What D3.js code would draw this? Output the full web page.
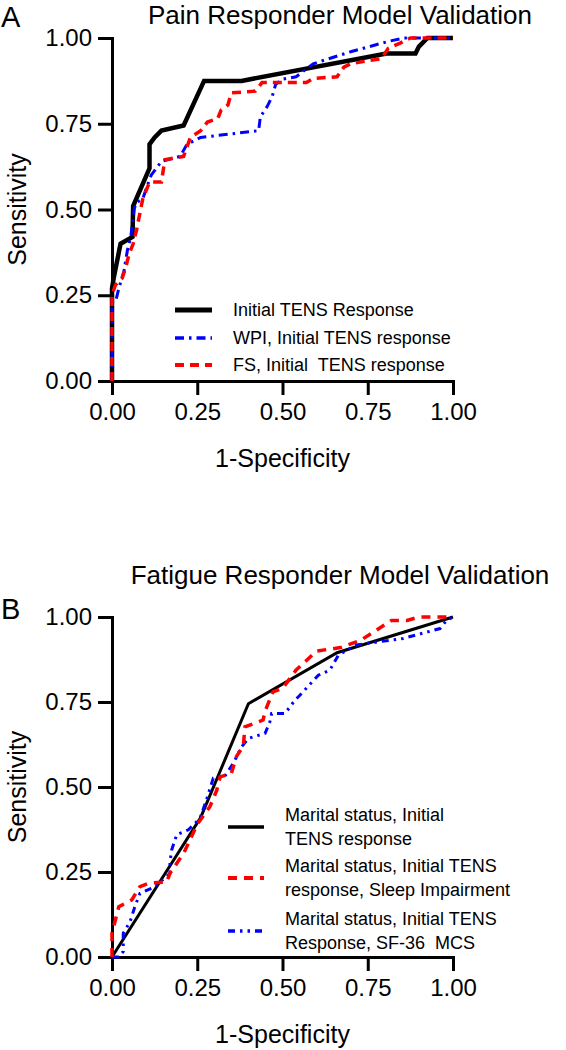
<!DOCTYPE html>
<html><head><meta charset="utf-8">
<script src="https://cdn.jsdelivr.net/npm/d3@7"></script>
<style>
body{margin:0;background:#fff}
svg{display:block}
text{font-family:"Liberation Sans",Arial,sans-serif;fill:#000;white-space:pre}
</style>
</head><body>
<svg id="c" width="566" height="1050"></svg>
<script>
// ---------- data ----------
const tickValues = [0, 0.25, 0.5, 0.75, 1];
const tickLabels = ["0.00", "0.25", "0.50", "0.75", "1.00"];
const xAxisTitle = "1-Specificity";
const yAxisTitle = "Sensitivity";
const panelLetters = ["A", "B"];
const panelTitles = ["Pain Responder Model Validation", "Fatigue Responder Model Validation"];

// Panel A (pain) ROC curves: [1-specificity, sensitivity]
const painInitial = [[0,0],[0,0.27],[0.005,0.30],[0.025,0.40],[0.06,0.42],[0.062,0.51],[0.11,0.62],[0.11,0.69],[0.125,0.71],[0.145,0.73],[0.21,0.745],[0.27,0.875],[0.38,0.875],[0.805,0.955],[0.89,0.955],[0.90,0.975],[0.925,1.0],[1,1]];
const painWPI = [[0,0],[0,0.23],[0.01,0.23],[0.02,0.27],[0.035,0.32],[0.045,0.38],[0.055,0.42],[0.065,0.50],[0.07,0.52],[0.09,0.53],[0.10,0.56],[0.115,0.60],[0.13,0.62],[0.145,0.64],[0.20,0.655],[0.22,0.69],[0.26,0.71],[0.43,0.73],[0.435,0.77],[0.455,0.80],[0.47,0.83],[0.48,0.865],[0.50,0.88],[0.54,0.887],[0.59,0.925],[0.70,0.96],[0.81,0.99],[0.855,1],[1,1]];
const painFS = [[0,0],[0,0.25],[0.01,0.28],[0.03,0.30],[0.04,0.33],[0.05,0.37],[0.062,0.40],[0.072,0.44],[0.09,0.53],[0.11,0.58],[0.145,0.58],[0.155,0.645],[0.21,0.655],[0.23,0.71],[0.26,0.73],[0.28,0.755],[0.31,0.765],[0.32,0.79],[0.34,0.805],[0.35,0.84],[0.42,0.845],[0.44,0.87],[0.57,0.87],[0.59,0.882],[0.66,0.887],[0.68,0.915],[0.70,0.925],[0.79,0.94],[0.81,0.97],[0.845,0.985],[0.875,1],[1,1]];
const painLegend = ["Initial TENS Response", "WPI, Initial TENS response", "FS, Initial  TENS response"];

// Panel B (fatigue) ROC curves
const fatigueMarital = [[0,0],[0.26,0.41],[0.40,0.745],[0.66,0.895],[1,1]];
const fatigueSleep = [[0,0],[0,0.07],[0.02,0.148],[0.058,0.168],[0.082,0.207],[0.11,0.218],[0.16,0.22],[0.17,0.246],[0.21,0.305],[0.25,0.39],[0.287,0.442],[0.307,0.49],[0.317,0.53],[0.35,0.54],[0.365,0.59],[0.385,0.62],[0.39,0.677],[0.443,0.697],[0.45,0.726],[0.472,0.78],[0.50,0.79],[0.54,0.844],[0.60,0.90],[0.67,0.91],[0.73,0.932],[0.82,0.99],[0.865,0.99],[0.90,1],[1,1]];
const fatigueMCS = [[0,0],[0.02,0],[0.033,0.016],[0.033,0.07],[0.053,0.104],[0.067,0.148],[0.082,0.187],[0.126,0.207],[0.17,0.246],[0.17,0.28],[0.175,0.315],[0.19,0.36],[0.224,0.374],[0.258,0.408],[0.277,0.462],[0.297,0.526],[0.327,0.526],[0.356,0.57],[0.38,0.618],[0.40,0.643],[0.449,0.658],[0.463,0.692],[0.468,0.716],[0.507,0.716],[0.537,0.756],[0.551,0.77],[0.605,0.829],[0.639,0.844],[0.664,0.888],[0.717,0.918],[0.854,0.937],[0.962,0.966],[0.981,0.99],[1,1]];
const fatigueLegend = [["Marital status, Initial","TENS response"],["Marital status, Initial TENS","response, Sleep Impairment"],["Marital status, Initial TENS","Response, SF-36  MCS"]];

// ---------- layout / styles ----------
const svg = d3.select("#c");
const x = d3.scaleLinear().domain([0,1]).range([112, 453]);
const FONT_TICK = 24, FONT_AXIS = 25, FONT_TITLE = 26, FONT_LEG = 18;

const panels = [
  {letter: panelLetters[0], title: panelTitles[0], top: 38, bottom: 381, titleY: 24, letterY: 27,
   series: [
     {data: painInitial, color: "#000", width: 4.5, dash: null},
     {data: painWPI, color: "#0000ff", width: 3, dash: "9,5,2.5,5"},
     {data: painFS, color: "#ff0000", width: 3.5, dash: "9,6"}
   ],
   legend: {x1: 175, x2: 212, tx: 233, rows: [310, 338, 365], labels: painLegend.map(d => [d])}
  },
  {letter: panelLetters[1], title: panelTitles[1], top: 617, bottom: 957, titleY: 584, letterY: 619,
   series: [
     {data: fatigueMarital, color: "#000", width: 3, dash: null},
     {data: fatigueSleep, color: "#ff0000", width: 3.5, dash: "9,7"},
     {data: fatigueMCS, color: "#0000ff", width: 3, dash: "7,5,2.5,5,2.5,5"}
   ],
   legend: {x1: 228, x2: 264, tx: 285, rows: [827, 878, 931], labels: fatigueLegend}
  }
];

panels.forEach((p, pi) => {
  const y = d3.scaleLinear().domain([0,1]).range([p.bottom, p.top]);
  const g = svg.append("g");

  // axes
  const yAxis = d3.axisLeft(y).tickValues(tickValues).tickFormat((d,i) => tickLabels[i]).tickSize(14).tickSizeOuter(0).tickPadding(6);
  const xAxis = d3.axisBottom(x).tickValues(tickValues).tickFormat((d,i) => tickLabels[i]).tickSize(14).tickSizeOuter(0).tickPadding(8);
  const ya = g.append("g").attr("transform", `translate(${x(0)},0)`).call(yAxis);
  const xa = g.append("g").attr("transform", `translate(0,${y(0)})`).call(xAxis);
  [ya, xa].forEach(a => {
    a.select(".domain").attr("stroke", "#000").attr("stroke-width", 3).attr("stroke-linecap", "square");
    a.selectAll(".tick line").attr("stroke", "#000").attr("stroke-width", 3);
    a.selectAll(".tick text").attr("font-size", FONT_TICK).attr("fill", "#000")
      .style("font-family", '"Liberation Sans",Arial,sans-serif');
  });

  // axis titles
  g.append("text").attr("x", (x(0)+x(1))/2).attr("y", p.bottom + 86)
    .attr("text-anchor", "middle").attr("font-size", FONT_AXIS).text(xAxisTitle);
  g.append("text").attr("transform", `translate(26,${(p.top+p.bottom)/2}) rotate(-90)`)
    .attr("text-anchor", "middle").attr("font-size", FONT_AXIS).text(yAxisTitle);

  // title and letter
  g.append("text").attr("x", 340).attr("y", p.titleY).attr("text-anchor", "middle")
    .attr("font-size", FONT_TITLE).text(p.title);
  g.append("text").attr("x", 1).attr("y", p.letterY).attr("font-size", 29).text(p.letter);

  // curves
  const line = d3.line().x(d => x(d[0])).y(d => y(d[1]));
  const order = pi === 0 ? [0,1,2] : [0,2,1];
  order.forEach(i => {
    const s = p.series[i];
    g.append("path").datum(s.data).attr("d", line)
      .attr("fill", "none").attr("stroke", s.color).attr("stroke-width", s.width)
      .attr("stroke-linejoin", "miter").attr("stroke-dasharray", s.dash);
  });

  // legend
  p.series.forEach((s, i) => {
    const ry = p.legend.rows[i];
    g.append("line").attr("x1", p.legend.x1).attr("x2", p.legend.x2).attr("y1", ry).attr("y2", ry)
      .attr("stroke", s.color).attr("stroke-width", s.width + 0.5)
      .attr("stroke-dasharray", s.dash);
    const lines = p.legend.labels[i];
    const lh = 24;
    const y0 = ry - (lines.length - 1) * lh / 2;
    lines.forEach((t, k) => {
      g.append("text").attr("x", p.legend.tx).attr("y", y0 + k*lh).attr("dy", "0.35em")
        .attr("font-size", FONT_LEG).text(t);
    });
  });
});
</script>
</body></html>
